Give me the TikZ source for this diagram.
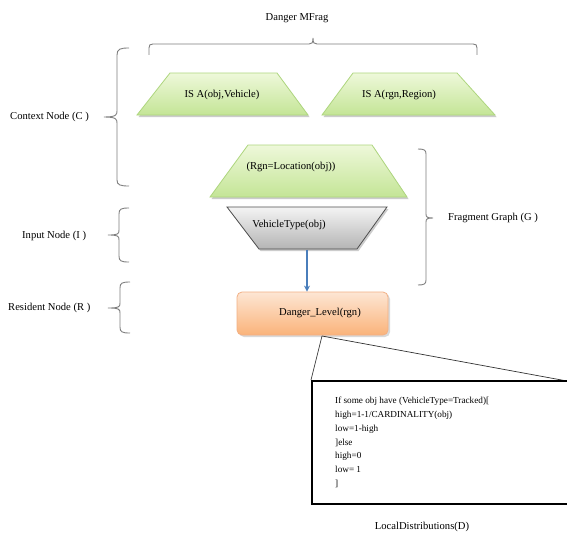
\documentclass[tikz,border=0pt]{standalone}
\usepackage{fontspec}
\setmainfont{Liberation Serif}
\usetikzlibrary{arrows.meta,calc}
\definecolor{greenTop}{HTML}{EEF8DA}
\definecolor{greenBot}{HTML}{C4E596}
\definecolor{greenEdge}{HTML}{AED67E}
\definecolor{grayTop}{HTML}{F4F4F4}
\definecolor{grayBot}{HTML}{B4B4B4}
\definecolor{grayEdge}{HTML}{4D4D4D}
\definecolor{orTop}{HTML}{FDE6D4}
\definecolor{orBot}{HTML}{FAB37A}
\definecolor{orEdge}{HTML}{F2B085}
\definecolor{braceCol}{HTML}{7F7F7F}
\definecolor{arrowBlue}{HTML}{4A7EBB}
\tikzset{
  lbl/.style={font=\fontsize{10.6}{12}\selectfont, inner sep=0pt},
  greenshape/.style={draw=greenEdge, line width=0.8pt, top color=greenTop, bottom color=greenBot},
  grayshape/.style={draw=grayEdge, line width=0.8pt, top color=grayTop, bottom color=grayBot},
  resident/.style={draw=orEdge, line width=0.8pt, top color=orTop, bottom color=orBot, rounded corners=5pt,
     minimum width=151pt, minimum height=43pt, inner sep=0pt},
  bracepath/.style={draw=braceCol, line width=0.9pt},
  frame/.style={minimum width=#1, inner sep=0pt},
  shadowcol/.style={fill=black!20, shift={(1.5,2)}},
}
\begin{document}
\begin{tikzpicture}[x=1pt,y=-1pt]
\useasboundingbox (0,0) rectangle (567,535);
\fill[white] (0,0) rectangle (567,535);

% title and top brace
\node[lbl] (title) at (297,18) {Danger MFrag};
\draw[bracepath] (149,55) -- (149,48) .. controls (149,45) and (150,44) .. (153,44) -- (309,44)
   .. controls (312,44) and (313,43) .. (313,38) .. controls (313,43) and (314,44) .. (317,44)
   -- (473,44) .. controls (476,44) and (477,45) .. (477,48) -- (477,55);

% context trapezoids
\fill[shadowcol] (170,73) -- (277,73) -- (308,115) -- (137,115) -- cycle;
\path[greenshape] (170,73) -- (277,73) -- (308,115) -- (137,115) -- cycle;
\node[lbl] (isa1) at (222,95) {IS A(obj,Vehicle)};
\fill[shadowcol] (353,73) -- (457,73) -- (495,115) -- (322,115) -- cycle;
\path[greenshape] (353,73) -- (457,73) -- (495,115) -- (322,115) -- cycle;
\node[lbl] (isa2) at (399,95) {IS A(rgn,Region)};
\fill[shadowcol] (248,145) -- (372,145) -- (407,197) -- (210,197) -- cycle;
\path[greenshape] (248,145) -- (372,145) -- (407,197) -- (210,197) -- cycle;
\node[lbl] (loc) at (291,167) {(Rgn=Location(obj))};

% input node
\fill[shadowcol] (227,207) -- (387,207) -- (357,249) -- (259,249) -- cycle;
\path[grayshape] (227,207) -- (387,207) -- (357,249) -- (259,249) -- cycle;
\node[frame=98pt, minimum height=1pt] (vt) at (307,249) {};
\node[lbl] (vttext) at (289,225) {VehicleType(obj)};

% resident node
\fill[black!15, rounded corners=5pt] (239,294) rectangle (390,337);
\node[resident] (dl) at (312.5,313.5) {};
\node[lbl] (dltext) at (320,313) {Danger\_Level(rgn)};

\draw[arrowBlue, line width=1.3pt, -{Stealth[length=6pt,width=6pt]}] (vt.south) -- (vt.south |- dl.north);

% local distribution box
\coordinate (bl) at (311,380);
\coordinate (br) at (567,381);
\coordinate (dlb) at (322,336);
\draw[black!80, line width=0.7pt] (dlb) -- (bl);
\draw[black!80, line width=0.7pt] (dlb) -- (br);
\node[draw=black, line width=2pt, minimum width=260pt, minimum height=123pt, anchor=north west, inner sep=0pt] (code) at (311,380) {};
\node[anchor=north west, align=left, inner sep=0pt, font=\fontsize{9.2}{13.8}\selectfont] (codetext) at (335,397)
 {If some obj have (VehicleType=Tracked)[\\
  high=1-1/CARDINALITY(obj)\\
  low=1-high\\
  ]else\\
  high=0\\
  low= 1\\
  ]};
\node[lbl] (ld) at (422,527) {LocalDistributions(D)};

% left labels and braces
\node[lbl, anchor=west] (ctx) at (10,117) {Context Node (C )};
\draw[bracepath] (129,48) .. controls (120,48) and (117,49) .. (117,55) -- (117,111)
  .. controls (117,115) and (116,117) .. (104,117) .. controls (116,117) and (117,119) .. (117,123)
  -- (117,180) .. controls (117,185) and (120,186) .. (129,186);

\node[lbl, anchor=west] (inp) at (22,236) {Input Node (I )};
\draw[bracepath] (129,208) .. controls (121,208) and (119,209) .. (119,214) -- (119,230)
  .. controls (119,234) and (118,235) .. (108,235) .. controls (118,235) and (119,236) .. (119,240)
  -- (119,256) .. controls (119,261) and (121,262) .. (129,262);

\node[lbl, anchor=west] (res) at (8,308) {Resident Node (R )};
\draw[bracepath] (130,282) .. controls (122,282) and (120,283) .. (120,288) -- (120,303)
  .. controls (120,307) and (119,308) .. (108,308) .. controls (119,308) and (120,309) .. (120,313)
  -- (120,327) .. controls (120,332) and (122,333) .. (130,333);

% right bracket
\draw[bracepath] (418,149) .. controls (424,149) and (426,150) .. (426,154) -- (426,214)
  .. controls (426,217) and (427,218) .. (433,218) .. controls (427,218) and (426,219) .. (426,222)
  -- (426,280) .. controls (426,284) and (424,285) .. (418,285);
\node[lbl, anchor=west] (frag) at (448,218) {Fragment Graph (G )};
\end{tikzpicture}
\end{document}
